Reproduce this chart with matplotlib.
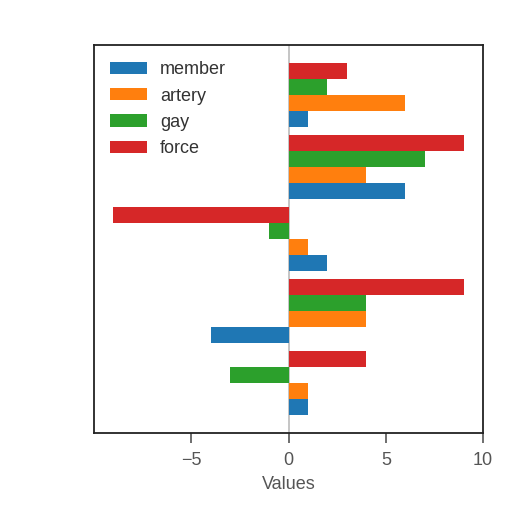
import numpy as np
import matplotlib.pyplot as plt

plt.rcParams['font.family'] = ['Liberation Sans', 'DejaVu Sans']

series = ['member', 'artery', 'gay', 'force']
colors = ['#1f77b4', '#ff7f0e', '#2ca02c', '#d62728']
# groups listed from bottom to top
member = [1, -4, 2, 6, 1]
artery = [1, 4, 1, 4, 6]
gay = [-3, 4, -1, 7, 2]
force = [4, 9, -9, 9, 3]
values = [member, artery, gay, force]

fig = plt.figure(figsize=(5.12, 5.12), dpi=100)
ax = fig.add_axes([0.1836, 0.1543, 0.760, 0.758])

y = np.arange(len(member))
h = 0.222
for i, (name, vals) in enumerate(zip(series, values)):
    ax.barh(y + (i - 1.5) * h, vals, height=h, color=colors[i], label=name)

ax.axvline(0, color='#bbbbbb', lw=1.2, zorder=0)
ax.set_xlim(-10, 10)
ax.set_ylim(-0.694, 4.694)
ax.set_xticks([-5, 0, 5, 10])
ax.set_yticks([])
ax.tick_params(axis='x', colors='#555555', labelsize=13, length=7, width=1.2,
               direction='out', pad=7)
for s in ax.spines.values():
    s.set_color('#222222')
    s.set_linewidth(1.3)
ax.set_xlabel('Values', color='#555555', fontsize=13, labelpad=5)

leg = ax.legend(loc='upper left', frameon=False, fontsize=13, handlelength=2.05,
                handleheight=0.67, labelspacing=0.52, handletextpad=0.7)
for t in leg.get_texts():
    t.set_color('#333333')

fig.savefig('out.png', dpi=100)
